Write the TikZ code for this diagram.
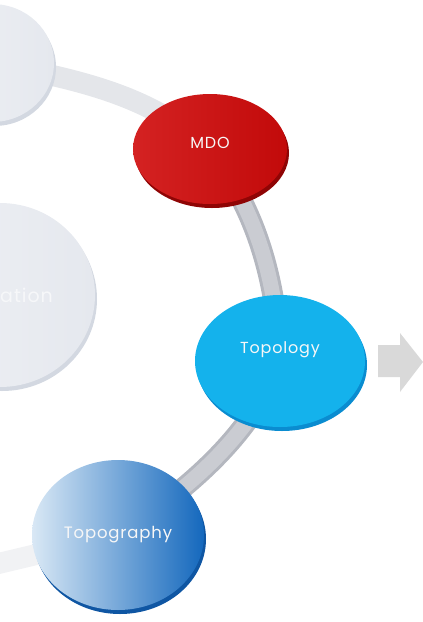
\documentclass[tikz,border=0pt]{standalone}
\usepackage{fontspec}
\setmainfont{Poppins}
\usetikzlibrary{shapes.geometric,shadows,backgrounds}
\definecolor{grayface}{HTML}{E5E8EE}
\definecolor{grayleft}{HTML}{EFF1F5}
\definecolor{grayrim}{HTML}{D3D8E1}
\definecolor{mdoleft}{HTML}{D42222}
\definecolor{mdoright}{HTML}{C20A0A}
\definecolor{mdorim}{HTML}{8F0505}
\definecolor{topoface}{HTML}{14B2EC}
\definecolor{toporim}{HTML}{0A8CD0}
\definecolor{graphleft}{HTML}{D9E8F5}
\definecolor{graphmid}{HTML}{79ACDA}
\definecolor{graphright}{HTML}{1468BD}
\definecolor{graphrim}{HTML}{0F56A3}
\definecolor{bandedge}{HTML}{B4B7BF}
\definecolor{bandface}{HTML}{CACCD2}
\definecolor{bandpale}{HTML}{E4E6EA}
\definecolor{bandfaint}{HTML}{F1F2F4}
\definecolor{arrowgray}{HTML}{D9D9D9}
\begin{document}
\begin{tikzpicture}[x=1pt,y=-1pt,
    disc/.style={ellipse, inner sep=0pt, draw=none},
    rim/.style={drop shadow={shadow xshift=2pt, shadow yshift=-4pt, opacity=1, fill=#1}},
    lbl/.style={text=white!94!gray, font=\fontsize{#1}{#1}\selectfont\addfontfeatures{LetterSpace=5}},
    band/.style={line width=21pt, draw=bandedge, postaction={draw=bandface, line width=15pt}},
    paleband/.style={line width=21pt, draw=#1}]
  \useasboundingbox (0,0) rectangle (423,622);
  \node[disc, left color=grayleft, right color=grayface, rim=grayrim,
        minimum width=124pt, minimum height=118pt] (gtop) at (-8,63) {};
  \node[disc, left color=grayleft, right color=grayface, rim=grayrim,
        minimum width=190pt, minimum height=184pt] (gmid) at (0,295) {};
  \node[lbl=19, text=white!65!grayface, anchor=base east, inner sep=0pt] (ation) at (53,302) {ation};
  \node[disc, left color=mdoleft, right color=mdoright, rim=mdorim,
        minimum width=154pt, minimum height=110pt,
        label={[lbl=16, yshift=6pt]center:MDO}] (mdo) at (210,149) {};
  \node[disc, fill=topoface, rim=toporim,
        minimum width=170pt, minimum height=132pt,
        label={[lbl=16, yshift=11pt]center:Topology}] (topo) at (280,361) {};
  \node[disc, left color=graphleft, middle color=graphmid, right color=graphright, rim=graphrim,
        minimum width=172pt, minimum height=150pt,
        label={[lbl=16.5]center:Topography}] (topog) at (118,535) {};
  \coordinate (edge) at (-12,566);
  \begin{pgfonlayer}{background}
    \draw[paleband=bandpale] (gtop.center) .. controls (80,80) and (150,95) .. (mdo.center);
    \draw[band] (mdo.center) .. controls (240,190) and (275,250) .. (topo.center);
    \draw[band] (topo.center) .. controls (262,410) and (220,470) .. (topog.center);
    \draw[paleband=bandfaint] (topog.center) -- (edge);
  \end{pgfonlayer}
  \fill[arrowgray] (378,345) -- (400,345) -- (400,333) -- (423,362) -- (400,392) -- (400,377) -- (378,377) -- cycle;
\end{tikzpicture}
\end{document}
